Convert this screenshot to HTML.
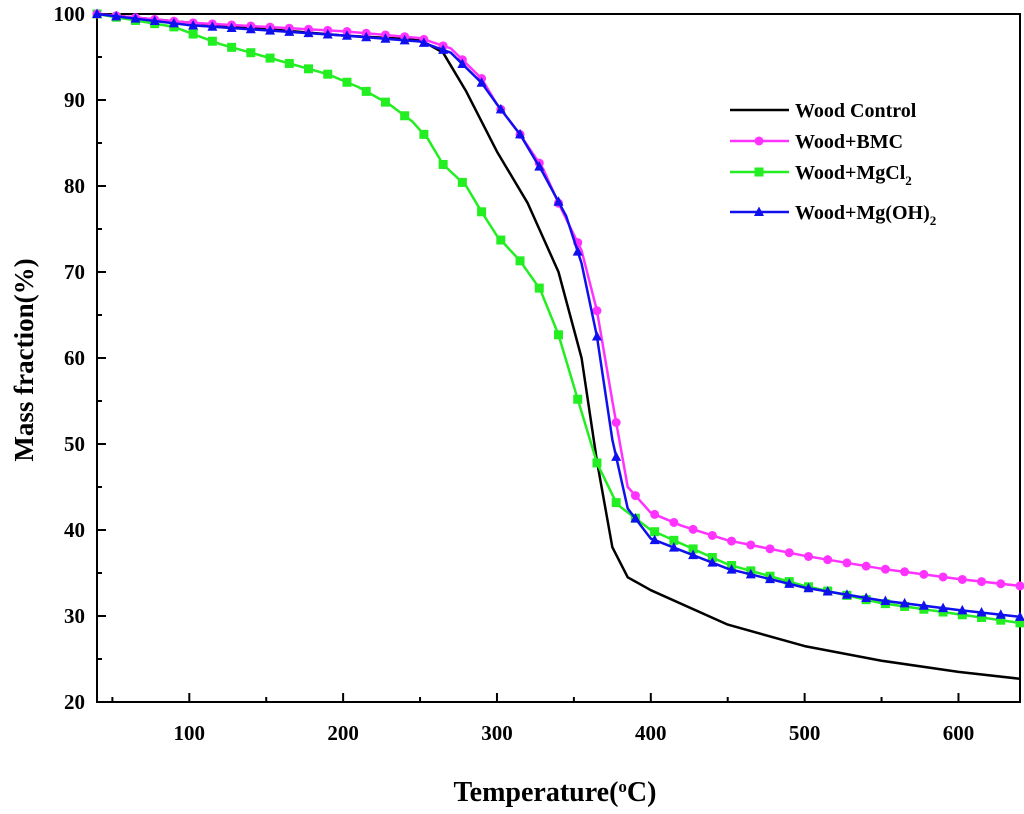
<!DOCTYPE html>
<html><head><meta charset="utf-8"><style>
body{margin:0;background:#fff}
svg text{font-family:"Liberation Serif",serif;font-weight:bold}
</style></head><body>
<svg width="1024" height="809" viewBox="0 0 1024 809">
<g id="plot"></g>
</svg>
<script>
const xTicks=[100,200,300,400,500,600];
const yTicks=[20,30,40,50,60,70,80,90,100];
const controlT=[40,100,200,250,265,280,300,320,340,355,365,375,385,400,450,500,550,600,640];
const controlM=[100,99,97.5,97,95.5,91,84,78,70,60,48,38,34.5,33,29,26.5,24.8,23.5,22.7];
const bmcT=[40,100,150,200,250,270,290,300,315,330,340,355,365,375,385,400,420,450,500,550,600,640];
const bmcM=[100,99,98.5,98,97.2,96,92.5,89.5,86,82,78,72.5,65.5,55,45,42,40.5,38.8,37,35.5,34.3,33.5];
const mgclT=[40,90,120,150,190,210,230,245,255,265,280,290,300,315,328,340,352,365,378,400,450,500,550,600,640];
const mgclM=[100,98.5,96.5,95,93,91.5,89.5,87.5,85.5,82.5,80,77,74.2,71.3,68,62.7,55.5,47.8,43,40,36,33.5,31.5,30.2,29.2];
const mgohT=[40,100,200,250,270,290,300,315,330,345,355,365,375,385,400,450,500,550,600,640];
const mgohM=[100,98.7,97.5,96.8,95.5,92,89.5,86,81.5,76.5,71,62.5,50.5,42.5,39,35.5,33.3,31.8,30.7,29.9];

const L=97,R=1020,T=14,B=702,X0=40,X1=640,Y0=20,Y1=100;
const sx=v=>L+(v-X0)/(X1-X0)*(R-L);
const sy=v=>B-(v-Y0)/(Y1-Y0)*(B-T);
const NS='http://www.w3.org/2000/svg';
const g=document.getElementById('plot');
function mk(tag,attrs,parent){const e=document.createElementNS(NS,tag);for(const k in attrs)e.setAttribute(k,attrs[k]);(parent||g).appendChild(e);return e;}
const fr=mk('rect',{x:L,y:T,width:R-L,height:B-T,fill:'none',stroke:'#000','stroke-width':2});


for(let v=50;v<=640;v+=50){const major=v%100===0;const t=mk('line',{x1:sx(v),x2:sx(v),y1:B,y2:B-(major?9:5),stroke:'#000','stroke-width':2});

}
xTicks.forEach(v=>{const t=mk('text',{x:sx(v),y:B+38,'text-anchor':'middle','font-size':21});t.textContent=v;

});
for(let v=20;v<=100;v+=5){const major=v%10===0;const t=mk('line',{x1:L,x2:L+(major?9:5),y1:sy(v),y2:sy(v),stroke:'#000','stroke-width':2});

}
yTicks.forEach(v=>{const t=mk('text',{x:L-12,y:sy(v)+7,'text-anchor':'end','font-size':21});t.textContent=v;

});
const xt=mk('text',{x:555,y:801,'text-anchor':'middle','font-size':28});xt.innerHTML='Temperature(<tspan baseline-shift="super" font-size="17">o</tspan>C)';


const yt=mk('text',{x:0,y:0,'text-anchor':'middle','font-size':27,transform:'translate(33,360) rotate(-90)'});yt.textContent='Mass fraction(%)';



function interp(T_,M_,t){for(let i=0;i<T_.length-1;i++){if(t>=T_[i]&&t<=T_[i+1]){return M_[i]+(M_[i+1]-M_[i])*(t-T_[i])/(T_[i+1]-T_[i]);}}return M_[M_.length-1];}
function marker(type,x,y,col,name){let e;
 if(type==='circle')e=mk('circle',{cx:x,cy:y,r:4.5,fill:col});
 else if(type==='square')e=mk('rect',{x:x-4.5,y:y-4.5,width:9,height:9,fill:col});
 else e=mk('polygon',{points:`${x},${y-5.5} ${x-5},${y+4} ${x+5},${y+4}`,fill:col});
 
 }
function series(T_,M_,col,name,mtype,off){
 const p=mk('polyline',{points:T_.map((t,i)=>sx(t)+','+sy(M_[i])).join(' '),fill:'none',stroke:col,'stroke-width':2.5,'stroke-linejoin':'round'});
 
 
 if(mtype){for(let t=T_[0]+off;t<=T_[T_.length-1];t+=12.5){marker(mtype,sx(t),sy(interp(T_,M_,t)),col,name+'-marker');}}
}
series(controlT,controlM,'#000','wood-control',null,0);
series(mgclT,mgclM,'#22ee22','wood-mgcl2','square',0);
series(bmcT,bmcM,'#ff33ff','wood-bmc','circle',0);
series(mgohT,mgohM,'#1010ee','wood-mgoh2','triangle',0);
const leg=[['Wood Control','#000',null,110],['Wood+BMC','#ff33ff','circle',141],['Wood+MgCl<tspan dy="6" font-size="13">2</tspan>','#22ee22','square',172],['Wood+Mg(OH)<tspan dy="6" font-size="13">2</tspan>','#1010ee','triangle',212]];
leg.forEach(([lab,col,m,y])=>{const l=mk('line',{x1:730,x2:789,y1:y,y2:y,stroke:col,'stroke-width':2.5});
 
 
 if(m)marker(m,759,y,col,'legend-marker');
 const t=mk('text',{x:795,y:y+7,'font-size':20});t.innerHTML=lab;
 
 });
</script>
</body></html>
